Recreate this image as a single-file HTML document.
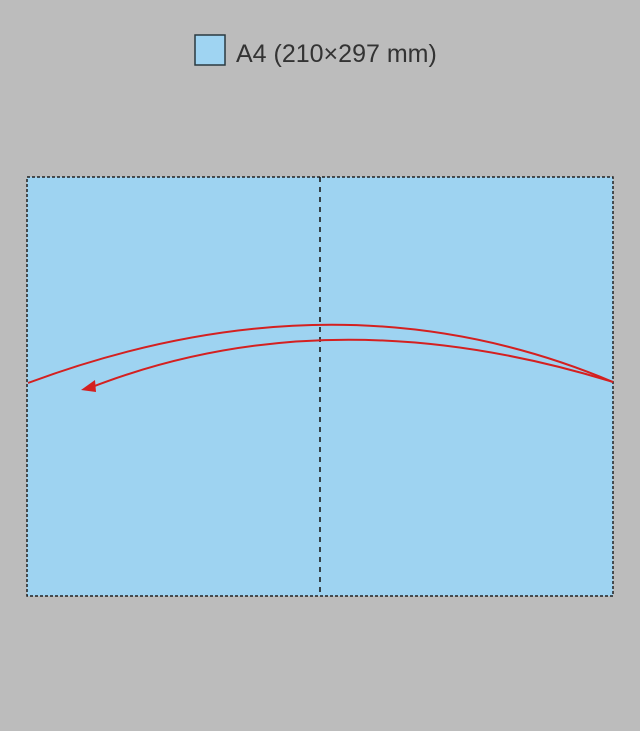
<!DOCTYPE html>
<html><head><meta charset="utf-8"><style>
html,body{margin:0;padding:0;background:#bcbcbc;}
svg{display:block;}
</style></head><body>
<svg width="640" height="731" viewBox="0 0 640 731">
<rect x="0" y="0" width="640" height="731" fill="#bcbcbc"/>
<g>
<rect x="195" y="35" width="30" height="30" fill="#9fd4f2" stroke="#2a3a40" stroke-width="1.5"/>
<text x="236" y="62" font-family="Liberation Sans, sans-serif" font-size="25" fill="#333">A4 (210×297 mm)</text>
</g>
<rect x="27" y="177" width="586" height="419" fill="#9ed3f1" stroke="#222" stroke-width="1.5" stroke-dasharray="3,2"/>
<line x1="320" y1="177" x2="320" y2="596" stroke="#111" stroke-width="1.5" stroke-dasharray="5,5"/>
<path d="M28,383 Q340,267 613,382" fill="none" stroke="#d42020" stroke-width="2"/>
<path d="M613,382 Q330,295 92,387" fill="none" stroke="#d42020" stroke-width="2"/>
<polygon points="81,390 95,380 96,392" fill="#d42020"/>
</svg>
</body></html>
